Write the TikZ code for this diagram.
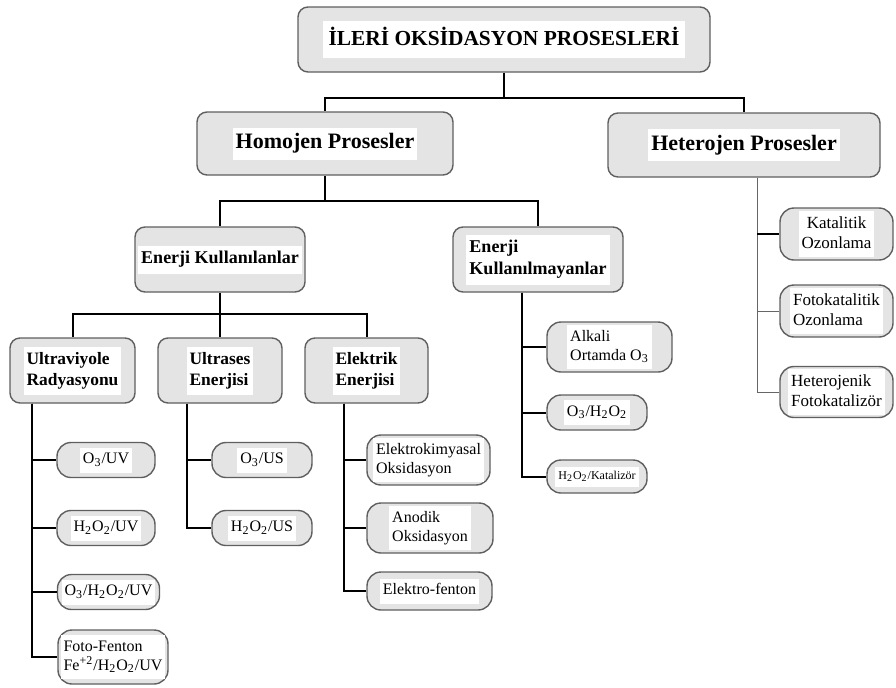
\documentclass[tikz,border=0pt]{standalone}
\usepackage{fontspec}
\setmainfont{Liberation Serif}
\usetikzlibrary{positioning}
\usetikzlibrary{calc}
\definecolor{boxfill}{RGB}{228,228,228}
\definecolor{boxline}{RGB}{95,95,95}
\setlength{\fboxsep}{1.5pt}
\newcommand{\wb}[2][c]{\colorbox{white}{\begin{tabular}{@{}#1@{}}#2\end{tabular}}}
\tikzset{box/.style={draw=boxline,fill=boxfill,line width=0.7pt,rounded corners=5pt,inner sep=0pt}}
\tikzset{lvlA/.style={box,font=\bfseries\fontsize{11}{13}\selectfont}}
\tikzset{lvlB/.style={box,font=\bfseries\fontsize{9}{11}\selectfont}}
\tikzset{lvlC/.style={box,font=\bfseries\fontsize{8.7}{10.5}\selectfont}}
\tikzset{leaf/.style={box,rounded corners=7pt,font=\fontsize{8}{9.5}\selectfont}}
\tikzset{tree/.style={line width=1pt}}
\tikzset{thintree/.style={line width=0.5pt,draw=black!60}}

\begin{document}
\begin{tikzpicture}[x=0.5pt,y=-0.5pt]
\useasboundingbox (0,0) rectangle (896,687);

        \node[lvlA,font=\bfseries\fontsize{10.7}{12}\selectfont,minimum width=206pt,minimum height=32.5pt] (top) at (504,39.5) {\setlength{\fboxsep}{3pt}\wb{İLERİ OKSİDASYON PROSESLERİ}};

        \node[lvlA,minimum width=128pt,minimum height=31.5pt] (homo) at (325,143.5) {\wb{Homojen Prosesler}};
        \node[lvlA,minimum width=136pt,minimum height=32pt] (hetero) at (744,145) {\wb{Heterojen Prosesler}};

        \node[lvlB,minimum width=85pt,minimum height=32.5pt] (ekul) at (220,259.5) {\wb{Enerji Kullanılanlar}};
        \node[lvlB,minimum width=85pt,minimum height=32.5pt] (ekm) at (538,259.5) {\wb[l]{Enerji\\Kullanılmayanlar}};

        \node[lvlC,minimum width=62.5pt,minimum height=32.5pt] (uv) at (72.5,370.5) {\wb[l]{Ultraviyole\\Radyasyonu}};
        \node[lvlC,minimum width=62pt,minimum height=32.5pt] (us) at (220,370.5) {\wb[l]{Ultrases\\Enerjisi}};
        \node[lvlC,minimum width=61.5pt,minimum height=32.5pt] (el) at (366.5,370.5) {\wb[l]{Elektrik\\Enerjisi}};

        % yapraklar
        \node[leaf,minimum width=49pt,minimum height=17.5pt] (o3uv) at (106,460) {\wb{O\textsubscript{3}/UV}};
        \node[leaf,minimum width=49pt,minimum height=17.5pt] (h2o2uv) at (106,528) {\wb{H\textsubscript{2}O\textsubscript{2}/UV}};
        \node[leaf,minimum width=51pt,minimum height=17.5pt] (o3h2o2uv) at (108.5,592) {\wb{O\textsubscript{3}/H\textsubscript{2}O\textsubscript{2}/UV}};
        \node[leaf,minimum width=55pt,minimum height=27pt] (foto) at (113,657) {\wb[l]{Foto-Fenton\\Fe\textsuperscript{+2}/H\textsubscript{2}O\textsubscript{2}/UV}};

        \node[leaf,minimum width=50pt,minimum height=17.5pt] (o3us) at (262,460) {\wb{O\textsubscript{3}/US}};
        \node[leaf,minimum width=50pt,minimum height=17.5pt] (h2o2us) at (262,528) {\wb{H\textsubscript{2}O\textsubscript{2}/US}};

        \node[leaf,minimum width=61.5pt,minimum height=25pt] (ekim) at (428.5,460) {\wb[l]{Elektrokimyasal\\Oksidasyon}};
        \node[leaf,minimum width=63pt,minimum height=25pt] (anod) at (430,528) {\wb[l]{Anodik\\Oksidasyon}};
        \node[leaf,minimum width=62.5pt,minimum height=19pt] (efen) at (429.5,591) {\wb{Elektro-fenton}};

        \node[leaf,minimum width=62.5pt,minimum height=25pt] (alk) at (609.5,347) {\wb[l]{Alkali\\Ortamda O\textsubscript{3}}};
        \node[leaf,minimum width=50pt,minimum height=17.5pt] (o3h2o2) at (597,412.5) {\wb{O\textsubscript{3}/H\textsubscript{2}O\textsubscript{2}}};
        \node[leaf,font=\fontsize{6}{7}\selectfont,minimum width=50pt,minimum height=16.5pt] (kat2) at (597,476.5) {\wb{H\textsubscript{2}O\textsubscript{2}/Katalizör}};

        \node[leaf,font=\fontsize{8.5}{10}\selectfont,minimum width=56.5pt,minimum height=26pt] (katoz) at (836.5,234) {\wb{Katalitik\\Ozonlama}};
        \node[leaf,font=\fontsize{8.5}{10}\selectfont,minimum width=56.5pt,minimum height=26pt] (fotoz) at (836.5,311) {\wb[l]{Fotokatalitik\\Ozonlama}};
        \node[leaf,font=\fontsize{8.5}{10}\selectfont,minimum width=56.5pt,minimum height=25.5pt] (hetfk) at (836.5,392) {\wb[l]{Heterojenik\\Fotokatalizör}};

        % baglantilar
        \draw[tree] (top.south) -- ++(0,25) coordinate (j0);
        \draw[tree] (j0) -| (homo.north);
        \draw[tree] (j0) -| (hetero.north);

        \draw[tree] (homo.south) -- ++(0,25) coordinate (j1);
        \draw[tree] (j1) -| (ekul.north);
        \draw[tree] (j1) -| (ekm.north);

        \draw[tree] (ekul.south) -- ++(0,21) coordinate (j2);
        \foreach \n in {uv,us,el}
            \draw[tree] (j2) -| (\n.north);

        \foreach \n in {o3uv,h2o2uv,o3h2o2uv,foto}
            \draw[tree] ([xshift=11.5pt]uv.south west) |- (\n.west);
        \foreach \n in {o3us,h2o2us}
            \draw[tree] ([xshift=15pt]us.south west) |- (\n.west);
        \foreach \n in {ekim,anod,efen}
            \draw[tree] ([xshift=20pt]el.south west) |- (\n.west);
        \foreach \n in {alk,o3h2o2,kat2}
            \draw[tree] ([xshift=35pt]ekm.south west) |- (\n.west);
        \foreach \n in {katoz,fotoz,hetfk}
            \draw[thintree] ([xshift=6.5pt]hetero.south) |- (\n.west);
        \draw[tree] ([xshift=6.5pt]hetero.south |- katoz.west) -- (katoz.west);
\end{tikzpicture}
\end{document}
